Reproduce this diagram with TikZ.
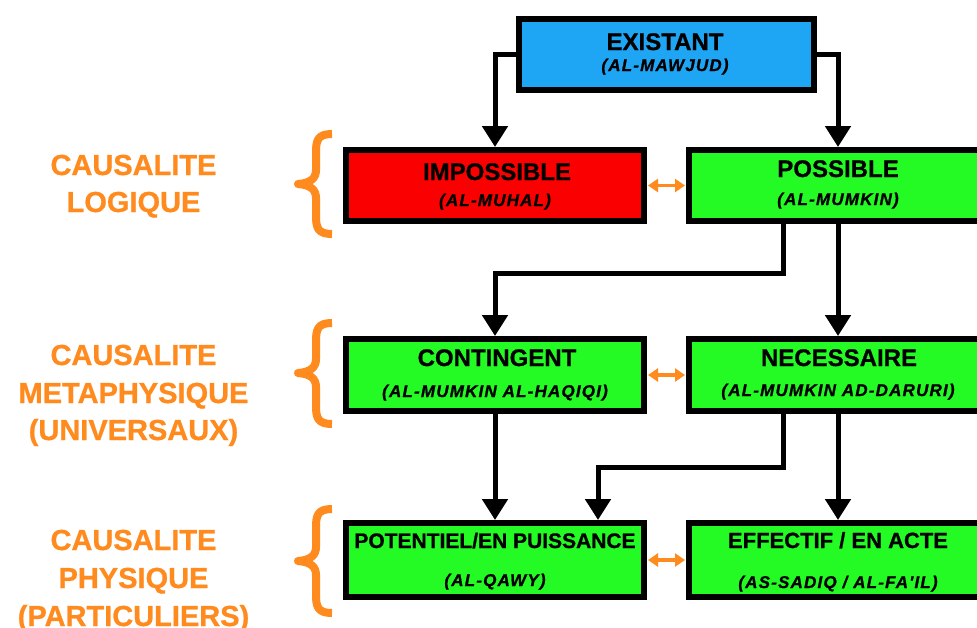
\documentclass[tikz,border=0pt]{standalone}
\usepackage{fontspec}
\setmainfont{Liberation Sans}[BoldFeatures={FakeBold=0.8}]
\newfontfamily\subfont{Liberation Sans}[LetterSpace=7, BoldItalicFeatures={FakeBold=1}]
\usetikzlibrary{arrows.meta,calc}
\definecolor{exblue}{HTML}{1EA6F5}
\definecolor{imred}{HTML}{FA0000}
\definecolor{posgreen}{HTML}{24FB24}
\definecolor{corange}{HTML}{FF8A1E}
\newcommand\mybrace[3]{%
  \draw[brc] (332,#1) .. controls (318,#1) and (316,#1+6) .. (316,#1+18)
    -- (316,#2-14) .. controls (316,#2-6) and (311,#2-1) .. (298,#2)
    .. controls (311,#2+1) and (316,#2+6) .. (316,#2+14)
    -- (316,#3-18) .. controls (316,#3-6) and (318,#3) .. (332,#3);}
\begin{document}
\begin{tikzpicture}[x=1pt,y=-1pt,
  box/.style={draw=black, line width=6pt, minimum width=298pt, minimum height=71pt, inner sep=0pt},
  ttl/.style={font=\bfseries\fontsize{24}{24}\selectfont, anchor=base, inner sep=0pt},
  sub/.style={font=\subfont\bfseries\itshape\fontsize{17}{17}\selectfont, anchor=base, inner sep=0pt},
  lab/.style={font=\bfseries\fontsize{29}{29}\selectfont, text=corange, anchor=base, inner sep=0pt},
  conn/.style={line width=5pt, -{Triangle[width=25pt,length=21pt]}},
  dbl/.style={line width=3.5pt, draw=corange, {Triangle[width=13pt,length=10pt]}-{Triangle[width=13pt,length=10pt]}, shorten <=1pt, shorten >=1pt},
  brc/.style={draw=corange, line width=8pt, line join=round}]
\useasboundingbox (0,0) rectangle (977,627);
\clip (0,0) rectangle (977,627);

% boxes
\node[box, fill=exblue, minimum width=295pt] (ex) at (666.5,54.5) {};
\node[box, fill=imred] (imp) at (495,185.5) {};
\node[box, fill=posgreen] (pos) at (838,185.5) {};
\node[box, fill=posgreen, minimum height=72pt] (con) at (495,375) {};
\node[box, fill=posgreen, minimum height=72pt] (nec) at (838,375) {};
\node[box, fill=posgreen, minimum height=74pt] (pot) at (495,560) {};
\node[box, fill=posgreen, minimum height=74pt] (eff) at (838,560) {};

% texts
\node[ttl] (ext) at (665,50) {EXISTANT};
\node[sub] (exs) at (665,71) {(AL-MAWJUD)};
\node[ttl] (impt) at (497,180) {IMPOSSIBLE};
\node[sub] (imps) at (495,206) {(AL-MUHAL)};
\node[ttl] (post) at (838,177) {POSSIBLE};
\node[sub] (poss) at (838,205) {(AL-MUMKIN)};
\node[ttl] (cont) at (497,366) {CONTINGENT};
\node[sub] (cons) at (495,397) {(AL-MUMKIN AL-HAQIQI)};
\node[ttl] (nect) at (839,366) {NECESSAIRE};
\node[sub] (necs) at (838,396) {(AL-MUMKIN AD-DARURI)};
\node[ttl, font=\bfseries\fontsize{21}{21}\selectfont] (pott) at (495,548) {POTENTIEL/EN PUISSANCE};
\node[sub] (pots) at (495,586) {(AL-QAWY)};
\node[ttl, font=\bfseries\fontsize{22}{22}\selectfont] (efft) at (838,548) {EFFECTIF / EN ACTE};
\node[sub] (effs) at (838,588) {(AS-SADIQ / AL-FA'IL)};

% labels
\node[lab] (l1a) at (133.5,175) {CAUSALITE};
\node[lab] (l1b) at (133.5,212) {LOGIQUE};
\node[lab] (l2a) at (133.5,365) {CAUSALITE};
\node[lab] (l2b) at (133.5,403) {METAPHYSIQUE};
\node[lab] (l2c) at (133.5,440) {(UNIVERSAUX)};
\node[lab] (l3a) at (133.5,550) {CAUSALITE};
\node[lab] (l3b) at (133.5,588) {PHYSIQUE};
\node[lab] (l3c) at (133.5,626) {(PARTICULIERS)};

% braces
\mybrace{134}{184}{234}
\mybrace{323}{373}{424}
\mybrace{509}{561}{613}

% connectors
\coordinate (j1) at (783,273);
\coordinate (j2) at (783,467);
\coordinate (p2) at (598,467);
\draw[conn] (ex.west) -| (imp.north);
\draw[conn] (ex.east) -| (pos.north);
\draw[conn] (pos.south -| j1) -- (j1) -| (con.north);
\draw[conn] (pos.south) -- (nec.north);
\draw[conn] (con.south) -- (pot.north);
\draw[conn] (nec.south -| j2) -- (j2) -- (p2) -- (p2 |- pot.north);
\draw[conn] (nec.south) -- (eff.north);

% orange double arrows
\draw[dbl] (imp.east) -- (pos.west);
\draw[dbl] (con.east) -- (nec.west);
\draw[dbl] (pot.east) -- (eff.west);
\end{tikzpicture}
\end{document}
